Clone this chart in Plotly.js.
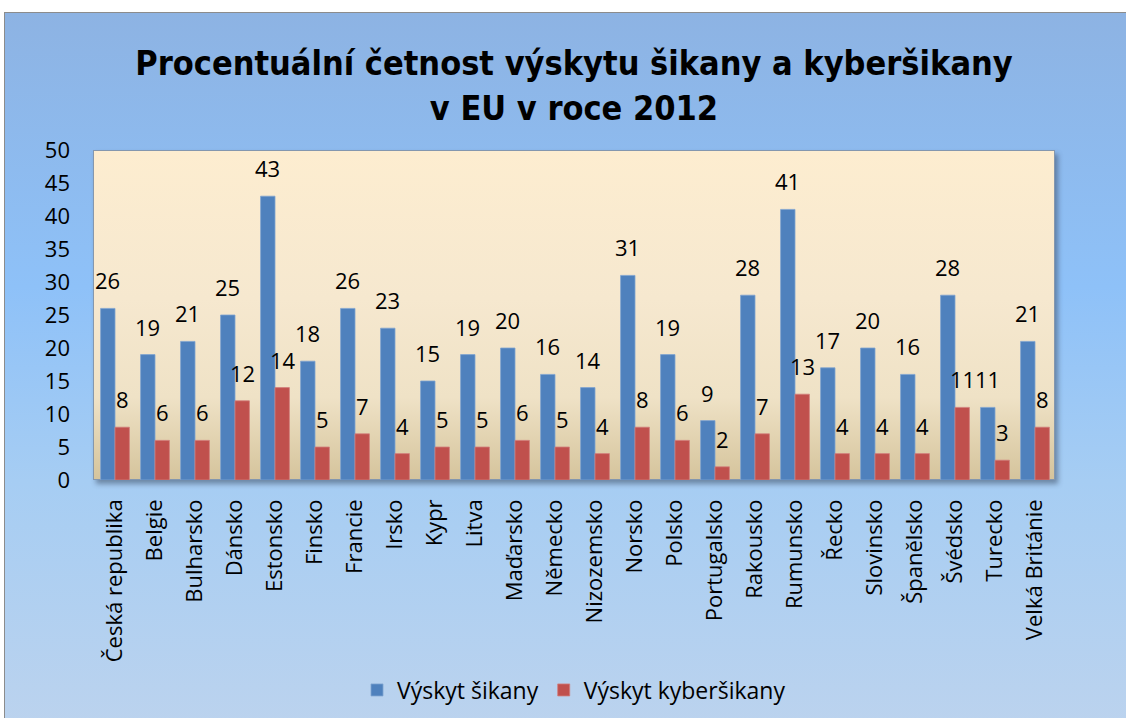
<!DOCTYPE html>
<html>
<head>
<meta charset="utf-8">
<script src="https://cdn.plot.ly/plotly-3.0.1.min.js"></script>
<style>
  html, body { margin: 0; padding: 0; width: 1126px; height: 718px; overflow: hidden; background: #ffffff; }
  #frame { position: absolute; left: 4px; top: 12px; width: 1130px; height: 720px;
           border: 1.5px solid #8c8c8c;
           background: linear-gradient(to bottom, #8db3e3 0%, #8ec1f8 38%, #a6cdf3 65%, #bcd3ee 100%); }
  #plotbg { position: absolute; left: 93px; top: 150px; width: 962px; height: 330px;
            box-sizing: border-box; border: 1.5px solid #8497ae;
            box-shadow: 3px 4px 5px rgba(40,50,70,0.45);
            background: linear-gradient(to bottom, #fdedd0 0%, #f6e8cf 45%, #efe2c6 75%, #d5c49c 100%); }
  #chart { position: absolute; left: 0; top: 0; width: 1126px; height: 718px; }
</style>
</head>
<body>
<div id="frame"></div>
<div id="plotbg"></div>
<div id="chart"></div>
<script>
const categories = ["Česká republika","Belgie","Bulharsko","Dánsko","Estonsko","Finsko","Francie","Irsko","Kypr","Litva","Maďarsko","Německo","Nizozemsko","Norsko","Polsko","Portugalsko","Rakousko","Rumunsko","Řecko","Slovinsko","Španělsko","Švédsko","Turecko","Velká Británie"];
const sikany = [26,19,21,25,43,18,26,23,15,19,20,16,14,31,19,9,28,41,17,20,16,28,11,21];
const kybersikany = [8,6,6,12,14,5,7,4,5,5,6,5,4,8,6,2,7,13,4,4,4,11,3,8];
const yTicks = [0,5,10,15,20,25,30,35,40,45,50];

const baseFont = "'Open Sans', sans-serif";

const traces = [
  {
    type: 'bar', name: 'Výskyt šikany', x: categories, y: sikany,
    marker: {color: '#4f81bd', line: {color: '#7fa3d1', width: 0.8}}
  },
  {
    type: 'bar', name: 'Výskyt kyberšikany', x: categories, y: kybersikany,
    marker: {color: '#c0504d', line: {color: '#d27e7c', width: 0.8}}
  }
];

function labels(vals, dx) {
  return vals.map((v, i) => ({
    x: categories[i], y: v, xref: 'x', yref: 'y', text: String(v),
    showarrow: false, xanchor: 'center', yanchor: 'bottom', xshift: dx, yshift: 11,
    font: {family: baseFont, size: 22, color: '#000'}
  }));
}

const layout = {
  width: 1126, height: 718,
  margin: {l: 93, r: 71, t: 150, b: 238, pad: 0},
  paper_bgcolor: 'rgba(0,0,0,0)',
  plot_bgcolor: 'rgba(0,0,0,0)',
  barmode: 'group', bargap: 0.28, bargroupgap: 0,
  font: {family: baseFont, size: 22, color: '#000'},
  title: {
    text: 'Procentuální četnost výskytu šikany a kyberšikany<br>v EU v roce 2012',
    font: {family: "'DejaVu Sans Condensed', 'DejaVu Sans', sans-serif", size: 34, color: '#000', weight: 'bold'},
    xref: 'paper', x: 0.5, xanchor: 'center',
    yref: 'container', y: 0.895, yanchor: 'middle'
  },
  xaxis: {
    type: 'category', tickangle: -90, showgrid: false, zeroline: false, showline: false,
    ticks: '', ticklabelstandoff: 14,
    tickfont: {family: baseFont, size: 22, color: '#000'}
  },
  yaxis: {
    range: [0, 50], tickmode: 'array', tickvals: yTicks, ticktext: yTicks.map(String),
    showgrid: false, zeroline: false, showline: false, ticks: '', ticklabelstandoff: 22,
    tickfont: {family: baseFont, size: 22, color: '#000'}
  },
  legend: {
    orientation: 'h', x: 0.5, xanchor: 'center', xref: 'paper',
    y: 0.039, yanchor: 'middle', yref: 'container',
    font: {family: baseFont, size: 23, color: '#000'},
    bgcolor: 'rgba(0,0,0,0)', itemwidth: 30, tracegroupgap: 0
  },
  annotations: labels(sikany, -7.5).concat(labels(kybersikany, 7.5)),
  showlegend: true
};

Plotly.newPlot('chart', traces, layout, {displayModeBar: false, staticPlot: true});
</script>
</body>
</html>
